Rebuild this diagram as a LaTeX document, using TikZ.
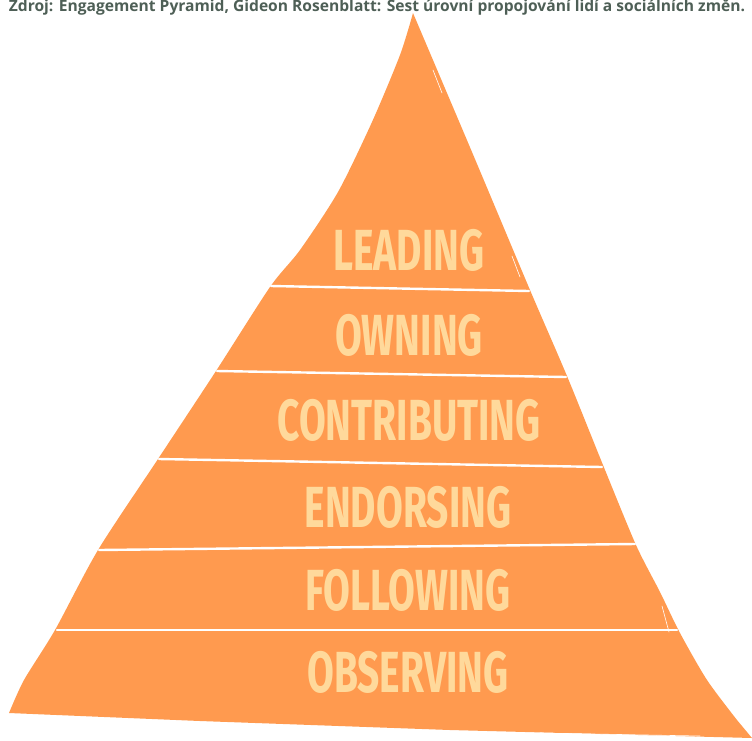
\documentclass[tikz,border=0pt]{standalone}
\usepackage{fontspec}
\newfontfamily\tierfont[FakeStretch=0.67]{Fira Sans}
\newfontfamily\notefont{Open Sans}
\definecolor{pyrorange}{HTML}{FF9A4F}
\definecolor{tiertext}{HTML}{FFD99B}
\definecolor{notegrey}{HTML}{4E5F56}
\tikzset{
  tier/.style={text=tiertext, font=\tierfont\bfseries\fontsize{58}{58}\selectfont, inner sep=0pt},
  seam/.style={draw=white, line width=2.4pt, line cap=round},
  scratch/.style={draw=white, line width=0.6pt, line cap=round}
}

\begin{document}
\begin{tikzpicture}[x=1pt, y=-1pt]
      \useasboundingbox (0, 0) rectangle (752, 740);
      \clip (0, 0) rectangle (752, 740);
      \node [anchor=base, text=notegrey, font=\notefont\bfseries\fontsize{15.6}{15.6}\selectfont, inner sep=0pt]
        (note) at (377, 11.5) {Zdroj: Engagement Pyramid, Gideon Rosenblatt: Šest úrovní propojování lidí a sociálních změn.};
      \fill [pyrorange]
        plot [smooth, tension=0.45] coordinates {(413, 13) (400, 55) (372, 122) (338, 192) (300, 250) (270, 287)
          (216, 371) (158, 459) (98, 550) (55, 630) (24, 680) (9, 713)}
        -- (200, 721) -- (450, 730) -- (752, 738)
        -- plot [smooth, tension=0.45] coordinates {(737, 720) (707, 680) (680, 633) (660, 592) (636, 545)
          (603, 465) (567, 376) (530, 290) (472, 152) (413, 13)}
        -- cycle;
      \draw [seam] (271, 286) -- (529, 291);
      \draw [seam] (217, 371) -- (566, 377);
      \draw [seam] (159, 459) -- (602, 467);
      \draw [seam] (99, 550) -- (635, 544);
      \draw [seam] (57, 630) -- (677, 630);
      \draw [scratch] (20, 716) -- (150, 720);
      \draw [scratch] (260, 725) -- (420, 730);
      \draw [scratch] (540, 733) -- (700, 736);
      \draw [scratch] (433, 70) -- (442, 93);
      \draw [scratch] (512, 256) -- (520, 277);
      \draw [scratch] (662, 606) -- (669, 632);
      \node [tier] (leading) at (409, 250) {LEADING};
      \node [tier] (owning) at (409, 335) {OWNING};
      \node [tier] (contributing) at (409, 420) {CONTRIBUTING};
      \node [tier] (endorsing) at (408, 507) {ENDORSING};
      \node [tier] (following) at (408, 590) {FOLLOWING};
      \node [tier] (observing) at (408, 672) {OBSERVING};
    \end{tikzpicture}
\end{document}
